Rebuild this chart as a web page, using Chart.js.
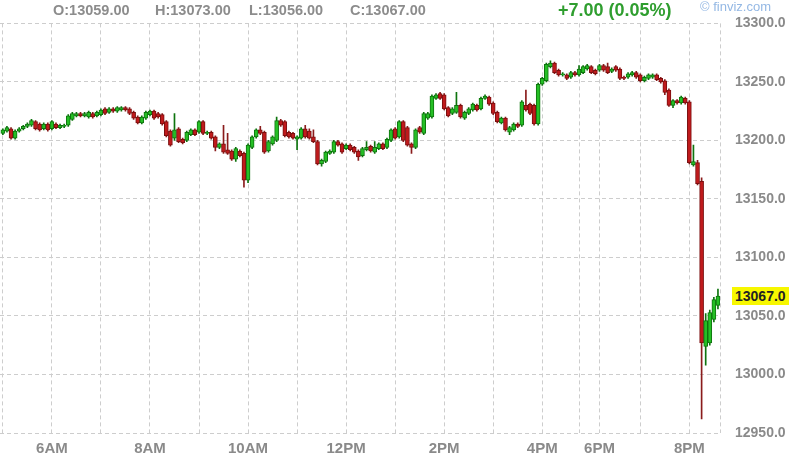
<!DOCTYPE html>
<html>
<head>
<meta charset="utf-8">
<script src="https://cdn.jsdelivr.net/npm/chart.js@4.4.0/dist/chart.umd.min.js"></script>
<style>
html,body{margin:0;padding:0;background:#fff;}
#wrap{position:relative;width:800px;height:463px;overflow:hidden;}
#c{position:absolute;left:0;top:0;}
.t{position:absolute;font-family:"Liberation Sans",Arial,sans-serif;font-weight:bold;white-space:nowrap;line-height:20px;}
#last{position:absolute;left:732px;height:18px;line-height:18px;padding:0 3px;background:#f7f700;color:#222;font-family:"Liberation Sans",Arial,sans-serif;font-weight:bold;font-size:14px;}
</style>
</head>
<body>
<div id="wrap">
<canvas id="c" width="800" height="463"></canvas>
<div class="t" style="left:53px;top:0;font-size:14.5px;color:#8c8c8c">O:13059.00</div>
<div class="t" style="left:155px;top:0;font-size:14.5px;color:#8c8c8c">H:13073.00</div>
<div class="t" style="left:249px;top:0;font-size:14.5px;color:#8c8c8c">L:13056.00</div>
<div class="t" style="left:350px;top:0;font-size:14.5px;color:#8c8c8c">C:13067.00</div>
<div class="t" style="left:558px;top:0;font-size:18px;color:#2f9e2f">+7.00 (0.05%)</div>
<div class="t" style="left:700px;top:-3px;font-size:13px;font-weight:normal;color:#94b8e4">© finviz.com</div>
<div id="last">13067.0</div>
</div>
<script>
// 5-minute candles, index 0 = 5:00 AM
const opens = [
13206,13208,13210,13202,13208,13210,13212,13213,13216,13214,
13210,13214,13210,13214,13211,13212,13213,13218,13221,13223,
13221,13220,13223,13221,13222,13227,13224,13227,13225,13226,
13228,13227,13224,13220,13215,13219,13222,13225,13223,13222,
13216,13208,13202,13210,13201,13200,13205,13209,13207,13216,
13206,13207,13203,13194,13197,13192,13191,13184,13191,13189,
13166,13194,13203,13209,13207,13191,13197,13200,13217,13216,
13207,13206,13201,13202,13210,13208,13203,13199,13180,13182,
13189,13190,13199,13197,13193,13196,13194,13191,13187,13192,
13195,13190,13193,13197,13194,13200,13210,13203,13216,13211,
13197,13194,13211,13206,13219,13220,13236,13240,13239,13228,
13223,13224,13230,13219,13223,13226,13230,13227,13236,13237,
13232,13224,13215,13219,13207,13209,13214,13213,13230,13231,
13230,13214,13248,13251,13263,13266,13260,13256,13256,13254,
13258,13256,13258,13261,13263,13260,13260,13264,13263,13259,
13263,13261,13254,13254,13256,13258,13256,13251,13253,13254,
13256,13253,13251,13243,13230,13234,13232,13236,13233,13179,
13181,13165,13024,13027,13047,13059];
const highs = [
13210,13212,13211,13209,13211,13213,13215,13218,13217,13215,
13215,13215,13217,13215,13214,13214,13222,13224,13224,13224,
13224,13225,13224,13225,13227,13228,13228,13228,13229,13229,
13229,13228,13225,13221,13221,13225,13226,13226,13224,13223,
13217,13209,13223,13211,13202,13208,13210,13210,13217,13217,
13208,13208,13204,13198,13213,13206,13192,13194,13192,13190,
13197,13204,13210,13212,13208,13200,13204,13220,13218,13217,
13208,13207,13204,13211,13213,13210,13209,13200,13184,13191,
13192,13200,13200,13198,13197,13197,13195,13192,13194,13199,
13196,13199,13198,13198,13202,13210,13211,13217,13217,13212,
13198,13210,13212,13224,13224,13239,13240,13241,13240,13229,
13228,13241,13231,13225,13228,13232,13231,13237,13239,13238,
13233,13225,13220,13220,13212,13215,13215,13234,13243,13232,
13231,13249,13254,13266,13268,13267,13261,13258,13257,13259,
13259,13264,13264,13265,13264,13261,13265,13265,13266,13262,
13264,13262,13255,13258,13259,13259,13257,13255,13257,13257,
13257,13254,13252,13244,13235,13235,13238,13237,13234,13196,
13183,13168,13052,13055,13066,13073];
const lows = [
13205,13207,13201,13201,13207,13209,13211,13212,13209,13208,
13209,13208,13209,13210,13210,13211,13212,13217,13220,13220,
13220,13219,13219,13220,13221,13222,13223,13224,13224,13225,
13225,13222,13218,13214,13214,13218,13221,13218,13219,13213,
13203,13195,13200,13198,13197,13199,13204,13204,13206,13205,
13205,13201,13191,13193,13189,13188,13183,13182,13186,13160,
13164,13193,13202,13205,13189,13190,13196,13199,13212,13203,
13202,13201,13192,13201,13202,13201,13198,13179,13178,13181,
13188,13189,13195,13189,13192,13191,13189,13183,13186,13191,
13190,13189,13192,13192,13193,13199,13201,13202,13199,13195,
13189,13193,13206,13205,13218,13219,13235,13235,13226,13220,
13222,13223,13219,13218,13222,13225,13225,13226,13235,13230,
13222,13215,13214,13208,13205,13208,13211,13212,13225,13222,
13213,13213,13247,13250,13262,13257,13255,13255,13252,13253,
13255,13255,13257,13260,13257,13256,13259,13259,13257,13258,
13259,13252,13252,13253,13255,13253,13250,13250,13252,13253,
13251,13249,13239,13229,13228,13231,13231,13231,13180,13178,
13162,12962,13008,13025,13045,13056];
const closes = [
13209,13211,13202,13208,13210,13212,13214,13217,13210,13209,
13214,13209,13216,13211,13213,13213,13221,13223,13223,13221,
13223,13224,13220,13224,13226,13223,13227,13225,13228,13228,
13226,13223,13219,13215,13220,13224,13225,13219,13220,13214,
13204,13196,13209,13199,13198,13207,13209,13205,13216,13206,
13207,13202,13194,13197,13190,13189,13184,13193,13187,13166,
13196,13203,13209,13206,13190,13199,13203,13217,13213,13204,
13203,13202,13203,13210,13203,13202,13199,13180,13183,13190,
13191,13199,13196,13190,13196,13192,13190,13186,13193,13194,
13191,13194,13197,13193,13201,13209,13202,13216,13200,13196,
13194,13209,13207,13223,13223,13238,13239,13236,13227,13221,
13227,13230,13220,13224,13227,13231,13226,13236,13238,13231,
13223,13216,13219,13209,13211,13214,13212,13233,13226,13223,
13214,13248,13253,13265,13266,13258,13256,13257,13253,13258,
13256,13261,13263,13264,13258,13257,13264,13260,13258,13261,
13260,13253,13253,13257,13258,13254,13251,13254,13256,13256,
13252,13250,13241,13230,13234,13232,13237,13232,13181,13182,
13163,13027,13046,13053,13064,13067];

// hour grid positions (in bar index units) and their labels
const gridPositions = [0,12,24,36,48,60,72,84,96,108,120,132,141,146,156,168,175.5];
const gridLabels    = ['','6AM','','8AM','','10AM','','12PM','','2PM','','4PM','','6PM','','8PM',''];
const priceTicks = [12950,13000,13050,13100,13150,13200,13250,13300];
const lastPrice = 13067;

const GREEN_FILL = '#25bf25', GREEN_LINE = '#0e740e';
const RED_FILL = '#c01a1c', RED_LINE = '#7a0f0f';

const up = closes.map((c, i) => c >= opens[i]);
const bodyData = opens.map((o, i) => ({x: i, y: [o, closes[i]]}));
const wickData = highs.map((h, i) => ({x: i, y: [lows[i], h]}));

const lastTag = {
  id: 'lastTag',
  afterRender(chart) {
    const y = chart.scales.y.getPixelForValue(lastPrice);
    const el = document.getElementById('last');
    el.style.top = (y - 9) + 'px';
  }
};

new Chart(document.getElementById('c'), {
  type: 'bar',
  data: {
    datasets: [
      {
        label: 'body', data: bodyData, grouped: false, order: 0,
        backgroundColor: up.map(u => u ? GREEN_FILL : RED_FILL),
        borderColor: up.map(u => u ? GREEN_LINE : RED_LINE),
        borderWidth: 1, borderSkipped: false, barThickness: 4
      },
      {
        label: 'wick', data: wickData, grouped: false, order: 1,
        backgroundColor: up.map(u => u ? GREEN_LINE : '#8a1c1c'),
        borderWidth: 0, barThickness: 1
      }
    ]
  },
  options: {
    responsive: false,
    animation: false,
    devicePixelRatio: 1,
    layout: {padding: {top: 23, left: 0, right: 0, bottom: 0}},
    plugins: {legend: {display: false}, tooltip: {enabled: false}},
    scales: {
      x: {
        type: 'linear', min: -0.7, max: 175.5, offset: false,
        afterBuildTicks: s => { s.ticks = gridPositions.map(v => ({value: v})); },
        afterFit: s => { s.height = 30; s.paddingLeft = 0; s.paddingRight = 0; },
        ticks: {
          autoSkip: false, maxRotation: 0, padding: 7,
          color: '#8a8a8a',
          font: {family: 'Liberation Sans', size: 15, weight: 'bold'},
          callback: v => { const k = gridPositions.indexOf(v); return k >= 0 ? gridLabels[k] : ''; }
        },
        grid: {color: '#cdcdcd', drawTicks: false, lineWidth: 1, offset: false},
        border: {display: false, dash: [4, 3]}
      },
      y: {
        position: 'right', min: 12950, max: 13300,
        afterBuildTicks: s => { s.ticks = priceTicks.map(v => ({value: v})); },
        afterFit: s => { s.width = 80; },
        ticks: {
          padding: 15, crossAlign: 'near',
          color: '#8a8a8a',
          font: {family: 'Liberation Sans', size: 14, weight: 'bold'},
          callback: v => Number(v).toFixed(1)
        },
        grid: {color: '#cdcdcd', drawTicks: false, lineWidth: 1},
        border: {display: false, dash: [4, 3]}
      }
    }
  },
  plugins: [lastTag]
});
</script>
</body>
</html>
